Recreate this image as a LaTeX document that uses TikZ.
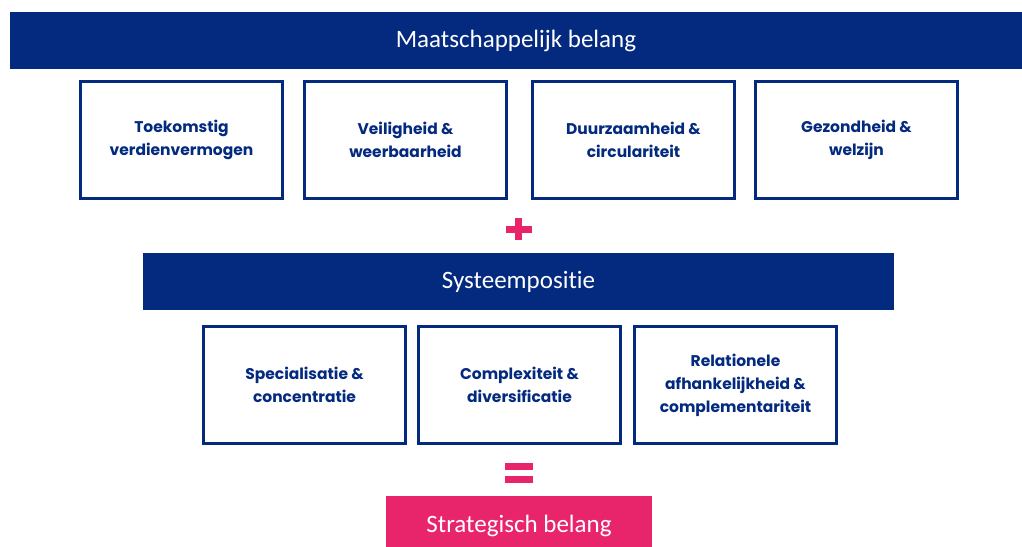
\documentclass[tikz,border=0pt]{standalone}
\usepackage{fontspec}
\setmainfont{Carlito}[Ligatures={NoCommon,NoRare}]
\newfontfamily\boxfont{Poppins}
\definecolor{navy}{HTML}{032A7F}
\definecolor{pinkc}{HTML}{E8246A}
\begin{document}
\begin{tikzpicture}[x=1pt,y=-1pt,
  bar/.style={fill=navy,draw=none,text=white,font=\fontsize{25}{28}\selectfont},
  pbox/.style={draw=navy,line width=3pt,fill=white,text=navy,align=center,font=\boxfont\bfseries\fontsize{15.5}{23}\selectfont},
  sym/.style={fill=pinkc,draw=none}]
\useasboundingbox (0,0) rectangle (1022,546);
\fill[white] (0,0) rectangle (1022,546);
% top bar
\node[bar,minimum width=1012pt,minimum height=57pt,inner sep=0pt] (mb) at (516,40.5) {Maatschappelijk belang};
% row 1 boxes
\node[pbox,minimum width=202pt,minimum height=117pt,inner sep=0pt] (b1) at (181.5,140) {Toekomstig\\verdienvermogen};
\node[pbox,minimum width=202pt,minimum height=117pt,inner sep=0pt] (b2) at (405.5,140) {Veiligheid \&\\weerbaarheid};
\node[pbox,minimum width=202pt,minimum height=117pt,inner sep=0pt] (b3) at (633.5,140) {Duurzaamheid \&\\circulariteit};
\node[pbox,minimum width=202pt,minimum height=117pt,inner sep=0pt] (b4) at (856.5,140) {Gezondheid \&\\welzijn};
% plus
\node[minimum size=0pt,inner sep=0pt] (plus) at (518.5,229) {};
\fill[pinkc] ([xshift=-13pt,yshift=-3.5pt]plus.center) rectangle ([xshift=13pt,yshift=3.5pt]plus.center);
\fill[pinkc] ([xshift=-3.5pt,yshift=-11pt]plus.center) rectangle ([xshift=3.5pt,yshift=11pt]plus.center);
% systeempositie
\node[bar,minimum width=751pt,minimum height=57pt,inner sep=0pt] (sp) at (518.5,281.5) {Systeempositie};
% row 2 boxes
\node[pbox,minimum width=202pt,minimum height=117pt,inner sep=0pt] (c1) at (304.5,385) {Specialisatie \&\\concentratie};
\node[pbox,minimum width=202pt,minimum height=117pt,inner sep=0pt] (c2) at (519.5,385) {Complexiteit \&\\diversificatie};
\node[pbox,minimum width=202pt,minimum height=117pt,inner sep=0pt] (c3) at (735.5,385) {Relationele\\afhankelijkheid \&\\complementariteit};
% equals
\node[minimum size=0pt,inner sep=0pt] (eq) at (519,473) {};
\fill[pinkc] ([xshift=-14pt,yshift=-10pt]eq.center) rectangle ([xshift=14pt,yshift=-3pt]eq.center);
\fill[pinkc] ([xshift=-14pt,yshift=3pt]eq.center) rectangle ([xshift=14pt,yshift=10pt]eq.center);
% strategisch belang
\node[fill=pinkc,text=white,minimum width=266pt,minimum height=60pt,inner sep=0pt,anchor=north,font=\fontsize{25}{28}\selectfont] (sb) at (519,496) {\raisebox{-6pt}{Strategisch belang}};
\end{tikzpicture}
\end{document}
